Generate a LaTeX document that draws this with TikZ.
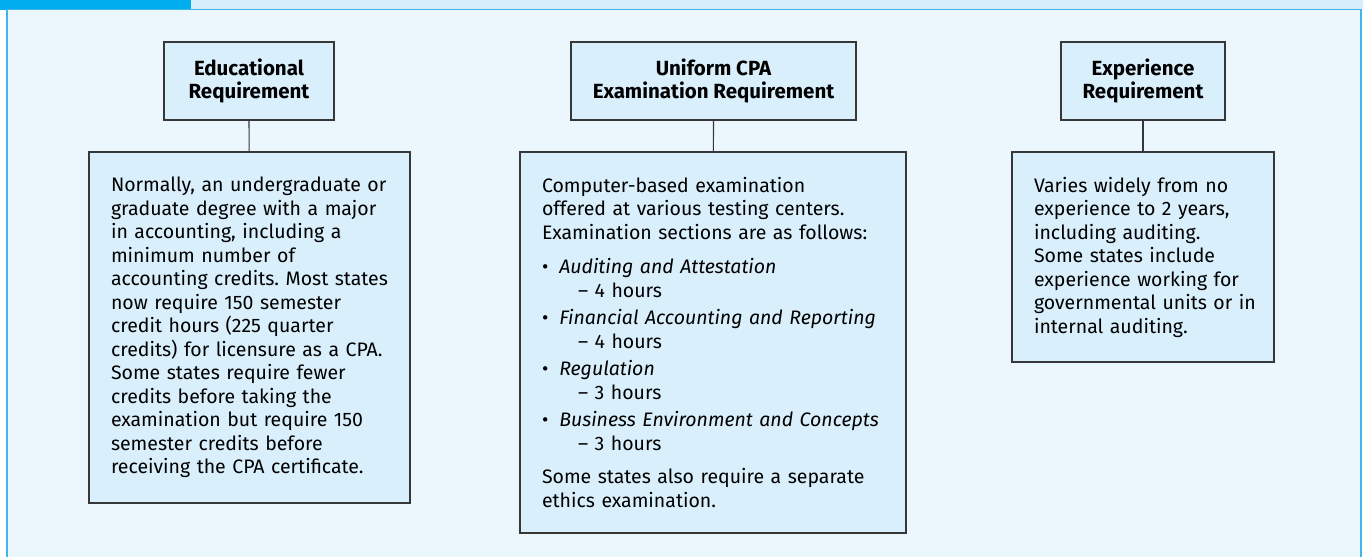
\documentclass[tikz,border=0pt]{standalone}
\usepackage{fontspec}
\setmainfont{Fira Sans}

\definecolor{tabcyan}{RGB}{0,174,239}
\definecolor{barblue}{RGB}{214,237,250}
\definecolor{framecyan}{RGB}{62,182,234}
\definecolor{panelbg}{RGB}{235,246,253}
\definecolor{boxfill}{RGB}{217,239,252}
\definecolor{boxline}{RGB}{55,55,55}

\begin{document}
\frenchspacing
\begin{tikzpicture}[x=1pt, y=-1pt,
		headbox/.style={draw=boxline, fill=boxfill, line width=1.2pt, align=center, inner sep=0pt, minimum height=78pt, font=\fontsize{20.5}{22.5}\selectfont\bfseries},
		bodybox/.style={draw=boxline, fill=boxfill, line width=1.2pt, align=left, inner xsep=22pt, inner ysep=0pt, font=\fontsize{19.5}{23.5}\selectfont},
		link/.style={draw=boxline, line width=1.2pt}]
		\useasboundingbox (0, 0) rectangle (1363, 557);
		% Panel and top bar:
		\fill[panelbg] (7, 9.5) rectangle (1361, 557);
		\fill[tabcyan] (0, 0) rectangle (190.5, 9.5);
		\fill[barblue] (190.5, 0) rectangle (1363, 9.5);
		\draw[framecyan, line width=1.5pt] (7, 557) -- (7, 9.5) -- (1361, 9.5) -- (1361, 557);
		% Headers:
		\node[headbox, minimum width=170pt] (eduhead) at (249, 81){Educational\\Requirement};
		\node[headbox, minimum width=285pt] (examhead) at (713.5, 81){Uniform CPA\\Examination Requirement};
		\node[headbox, minimum width=164pt] (exphead) at (1143, 81){Experience\\Requirement};
		% Bodies:
		\node[bodybox, text width=277pt, minimum height=351pt] (edubody) at (249.5, 327.5){Normally, an undergraduate or\\graduate degree with a major\\in accounting, including a\\minimum number of\\accounting credits. Most states\\now require 150 semester\\credit hours (225 quarter\\credits) for licensure as a CPA.\\Some states require fewer\\credits before taking the\\examination but require 150\\semester credits before\\receiving the CPA certificate.};
		\node[bodybox, text width=342pt, minimum height=381pt] (exambody) at (713, 342.5){Computer-based examination\\offered at various testing centers.\\Examination sections are as follows:\\[11pt]
			•\hspace{11pt}\textit{Auditing and Attestation}\\\hspace*{36pt}– 4 hours\\[4pt]
			•\hspace{11pt}\textit{Financial Accounting and Reporting}\\\hspace*{36pt}– 4 hours\\[4pt]
			•\hspace{11pt}\textit{Regulation}\\\hspace*{36pt}– 3 hours\\[4pt]
			•\hspace{11pt}\textit{Business Environment and Concepts}\\\hspace*{36pt}– 3 hours\\[10pt]
			Some states also require a separate\\ethics examination.};
		\node[bodybox, text width=218pt, minimum height=210pt] (expbody) at (1143, 257){Varies widely from no\\experience to 2 years,\\including auditing.\\Some states include\\experience working for\\\mbox{governmental units or in}\\internal auditing.};
		% Wires:
		\draw[link] (eduhead) -- (edubody);
		\draw[link] (examhead) -- (exambody);
		\draw[link] (exphead) -- (expbody);
	\end{tikzpicture}
\end{document}
